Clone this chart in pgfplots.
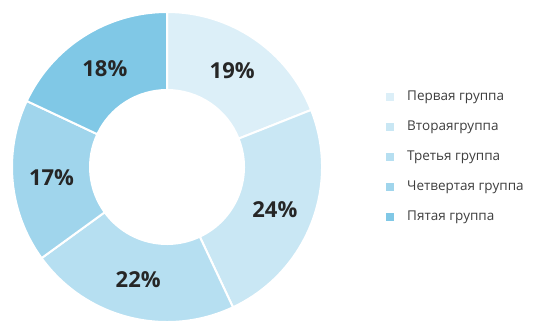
\documentclass[border=0pt]{standalone}
\usepackage{pgfplots}
\pgfplotsset{compat=1.18}
\usepackage{pgfplotstable}
\usepackage{fontspec}
\setmainfont{Open Sans}
\definecolor{c1}{HTML}{DCEFF8}
\definecolor{c2}{HTML}{C9E7F4}
\definecolor{c3}{HTML}{B6DFF1}
\definecolor{c4}{HTML}{A0D5EC}
\definecolor{c5}{HTML}{80C8E6}
\definecolor{txt}{HTML}{3E3E3E}
\pgfplotstableread[col sep=comma]{
value,name,col
19,Первая группа,c1
24,Втораягруппа,c2
22,Третья группа,c3
17,Четвертая группа,c4
18,Пятая группа,c5
}\piedata
\begin{document}
\begin{tikzpicture}
\begin{axis}[
  scale only axis, width=553pt, height=322pt,
  xmin=0, xmax=553, ymin=0, ymax=322,
  hide axis, clip=false]
\path (axis cs:0,0) rectangle (axis cs:553,322);
\pgfmathsetmacro{\cx}{167}
\pgfmathsetmacro{\cy}{155}
\def\Ro{155}
\def\Ri{77}
\def\Rl{116}
\xdef\cum{90}
\pgfplotsinvokeforeach{0,...,4}{
  \pgfplotstablegetelem{#1}{value}\of\piedata
  \let\v\pgfplotsretval
  \pgfplotstablegetelem{#1}{col}\of\piedata
  \let\cc\pgfplotsretval
  \pgfplotstablegetelem{#1}{name}\of\piedata
  \let\nm\pgfplotsretval
  \pgfmathsetmacro{\a}{\cum}
  \pgfmathsetmacro{\b}{\cum-3.6*\v}
  \pgfmathsetmacro{\m}{(\a+\b)/2}
  \edef\temp{\noexpand\fill[\cc, draw=white, line width=2pt]
    (axis cs:{\cx+\Ro*cos(\a)},{\cy+\Ro*sin(\a)})
    arc[start angle=\a, end angle=\b, radius=\Ro pt]
    -- (axis cs:{\cx+\Ri*cos(\b)},{\cy+\Ri*sin(\b)})
    arc[start angle=\b, end angle=\a, radius=\Ri pt] -- cycle;
    \noexpand\node[font=\noexpand\fontsize{22}{24}\noexpand\selectfont\noexpand\bfseries, text=black!85]
      at (axis cs:{\cx+\Rl*cos(\m)},{\cy+\Rl*sin(\m)}) {\v\noexpand\%};
    \noexpand\fill[\cc] (axis cs:386,{221-30*#1}) rectangle (axis cs:394,{229-30*#1});
    \noexpand\node[anchor=west, text=txt, font=\noexpand\fontsize{13.5}{15}\noexpand\selectfont, inner sep=0pt]
      at (axis cs:407,{225-30*#1}) {\nm};
  }
  \temp
  \xdef\cum{\b}
}
\end{axis}
\pgfresetboundingbox
\path (current axis.south west) rectangle (current axis.north east);
\end{tikzpicture}
\end{document}
